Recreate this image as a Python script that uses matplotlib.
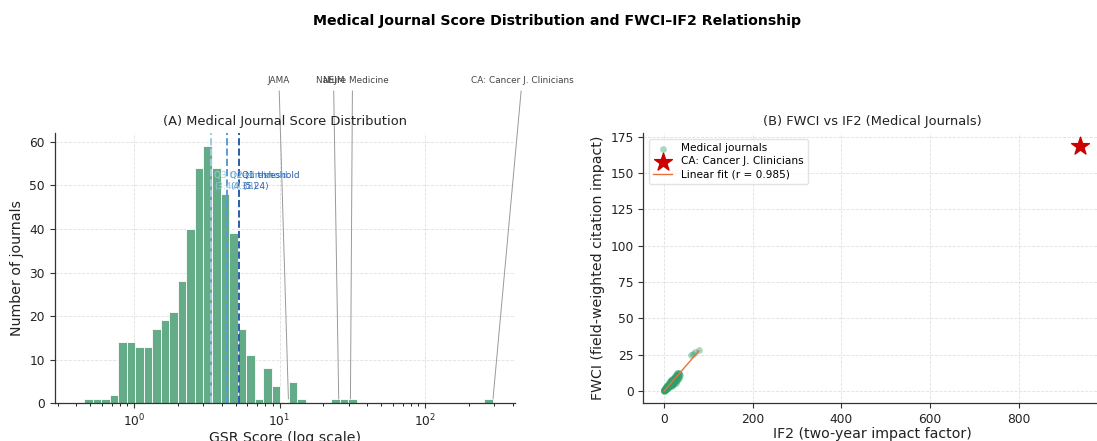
import numpy as np
import matplotlib
matplotlib.use("Agg")
import matplotlib.pyplot as plt

# ---------------- data ----------------
# Panel A: histogram of GSR scores (48 log-spaced bins between min and max score)
gsr_min = 0.455
gsr_max = 293.0
hist_counts = [1, 1, 1, 2, 14, 14, 13, 13, 17, 19, 21, 28, 40, 54, 59, 54,
               48, 39, 17, 11, 1, 8, 4, 0, 5, 1, 0, 0, 0, 1, 1, 1,
               0, 0, 0, 0, 0, 0, 0, 0, 0, 0, 0, 0, 0, 0, 0, 1]

threshold_labels = ["Q3 threshold", "Q2 threshold", "Q1 threshold"]
threshold_values = [3.40, 4.38, 5.24]
threshold_colors = ["#9ecae1", "#5b9bd5", "#2b5ea7"]

highlight_names = ["JAMA", "NEJM", "Nature Medicine", "CA: Cancer J. Clinicians"]
highlight_gsr = [11.5, 25.5, 30.7, 293.0]
highlight_text_x = [9.9, 23.5, 31.7, 464.0]

# Panel B: FWCI vs IF2
if2 = [0.3, 0.5, 0.8, 1.0, 1.2, 1.5, 1.8, 2.0, 2.2, 2.5, 2.8, 3.0, 3.2, 3.5,
       3.8, 4.0, 4.2, 4.5, 4.8, 5.0, 5.3, 5.6, 6.0, 6.3, 6.7, 7.0, 7.4, 7.8,
       8.2, 8.6, 9.0, 9.5, 10.0, 10.5, 11.0, 11.5, 12.0, 12.6, 13.2, 13.8,
       14.5, 15.0, 15.8, 16.5, 17.2, 18.0, 18.8, 19.5, 20.3, 21.0, 22.0,
       23.0, 24.0, 25.0, 26.0, 27.0, 28.0, 29.0, 30.0, 31.0, 32.0, 33.5,
       35.0, 3.0, 6.0, 10.0, 14.0, 18.0, 22.0, 26.0, 20.0, 15.0, 9.0, 5.0,
       2.0, 1.0, 4.0, 7.0, 12.0, 16.0, 24.0, 28.0, 30.0,
       8.0, 11.0, 13.0, 17.0, 19.0, 21.0, 23.0, 25.0, 27.0, 29.0, 31.0,
       33.0, 34.0, 36.0, 5.5, 9.5, 12.5, 15.5, 18.5, 21.5, 24.5, 27.5,
       20.0, 22.5, 26.5, 30.5, 32.5, 14.0, 16.5, 19.0,
       62.0, 65.0, 70.0, 79.0]
fwci = [0.1, 0.3, 0.2, 0.5, 0.4, 0.6, 0.7, 0.5, 0.9, 0.8, 1.1, 1.0, 1.3, 1.2,
        1.5, 1.1, 1.7, 1.4, 1.9, 1.6, 2.1, 1.8, 2.3, 2.0, 2.6, 2.2, 2.8, 2.5,
        3.1, 2.7, 3.4, 3.0, 3.7, 3.3, 4.0, 3.6, 4.4, 4.0, 4.8, 4.3,
        5.2, 4.7, 5.6, 5.0, 6.1, 5.5, 6.5, 6.0, 7.0, 6.4, 7.6,
        7.0, 8.2, 7.5, 8.8, 8.2, 9.5, 8.9, 10.2, 9.6, 11.0, 10.4,
        11.8, 2.0, 3.2, 2.4, 3.6, 4.3, 5.2, 6.5, 8.2, 6.4, 4.2, 2.9,
        1.2, 0.8, 2.4, 3.5, 5.6, 7.0, 9.8, 10.9, 11.9,
        4.2, 2.8, 6.3, 4.0, 8.0, 5.0, 9.2, 6.0, 10.5, 7.2, 12.2,
        9.0, 12.6, 11.0, 1.0, 2.0, 5.8, 3.8, 7.6, 4.8, 10.0, 6.8,
        4.6, 8.6, 5.4, 12.4, 8.0, 6.8, 7.8, 3.6,
        24.8, 25.5, 27.0, 28.2]
ca_if2 = 937.0
ca_fwci = 169.0
fit_r_text = "0.985"

# ---------------- figure ----------------
W, H = 1097, 441
fig = plt.figure(figsize=(W / 100, H / 100), dpi=100)

spine_col = "#333333"

def style_axes(ax):
    for s in ["top", "right"]:
        ax.spines[s].set_visible(False)
    for s in ["left", "bottom"]:
        ax.spines[s].set_color(spine_col)
        ax.spines[s].set_linewidth(0.9)
    ax.tick_params(colors=spine_col, labelcolor="#222222", labelsize=8.8, width=0.8)
    ax.grid(True, which="major", linestyle="--", color="#cccccc", alpha=0.6, linewidth=0.6)
    ax.set_axisbelow(True)

# ---- Panel A ----
axA = fig.add_axes([54.5 / W, (H - 403.3) / H, (515 - 54.5) / W, 270 / H])
edges = np.logspace(np.log10(gsr_min), np.log10(gsr_max), len(hist_counts) + 1)
centers = np.sqrt(edges[:-1] * edges[1:])
axA.hist(centers, bins=edges, weights=hist_counts, color="#64ab88",
         edgecolor="white", linewidth=0.6)
axA.set_xscale("log")
axA.set_xlim(0.284, 415)
style_axes(axA)

for lab, val, col in zip(threshold_labels, threshold_values, threshold_colors):
    axA.axvline(val, color=col, linestyle="--", linewidth=1.4)
    axA.text(val * 1.05, 51, f"{lab}\n({val:.2f})", color=col, fontsize=6.4,
             ha="left", va="center")

for name, g, tx in zip(highlight_names, highlight_gsr, highlight_text_x):
    axA.annotate(name, xy=(g, 1), xytext=(tx, 74), textcoords="data",
                 fontsize=6.4, color="#444444", ha="center", va="center",
                 annotation_clip=False,
                 arrowprops=dict(arrowstyle="-", color="#999999", lw=0.7,
                                 shrinkB=0))

axA.set_title("(A) Medical Journal Score Distribution", fontsize=9.4, color="#222222")
axA.set_xlabel("GSR Score (log scale)", fontsize=10.2, color="#222222", labelpad=1)
axA.set_ylabel("Number of journals", fontsize=10.2, color="#222222")

# ---- Panel B ----
axB = fig.add_axes([643.3 / W, (H - 403.3) / H, (1100.5 - 643.3) / W, 270 / H])
style_axes(axB)
axB.scatter(if2, fwci, s=24, color="#2e9e6b", alpha=0.4, linewidths=0,
            label="Medical journals", zorder=3)
axB.scatter([ca_if2], [ca_fwci], marker="*", s=180, color="#cc0000",
            label="CA: Cancer J. Clinicians", zorder=4)
coef = np.polyfit(if2, fwci, 1)
xs = np.array([min(if2), max(if2)])
axB.plot(xs, np.polyval(coef, xs), color="#e8743b", linewidth=1.0,
         label=f"Linear fit (r = {fit_r_text})", zorder=5)
axB.set_xticks([0, 200, 400, 600, 800])
axB.set_yticks([0, 25, 50, 75, 100, 125, 150, 175])
axB.legend(loc="upper left", fontsize=7.6, frameon=True, framealpha=0.8,
           edgecolor="#dddddd", borderpad=0.45, handlelength=1.8,
           labelspacing=0.3)
axB.set_title("(B) FWCI vs IF2 (Medical Journals)", fontsize=9.4, color="#222222")
axB.set_xlabel("IF2 (two-year impact factor)", fontsize=10.2, color="#222222", labelpad=1)
axB.set_ylabel("FWCI (field-weighted citation impact)", fontsize=10.2, color="#222222")

fig.suptitle("Medical Journal Score Distribution and FWCI\u2013IF2 Relationship",
             fontsize=10.2, fontweight="bold", x=557.5 / W, y=1 - 21 / H, va="center")

fig.savefig("out.png", dpi=100)
